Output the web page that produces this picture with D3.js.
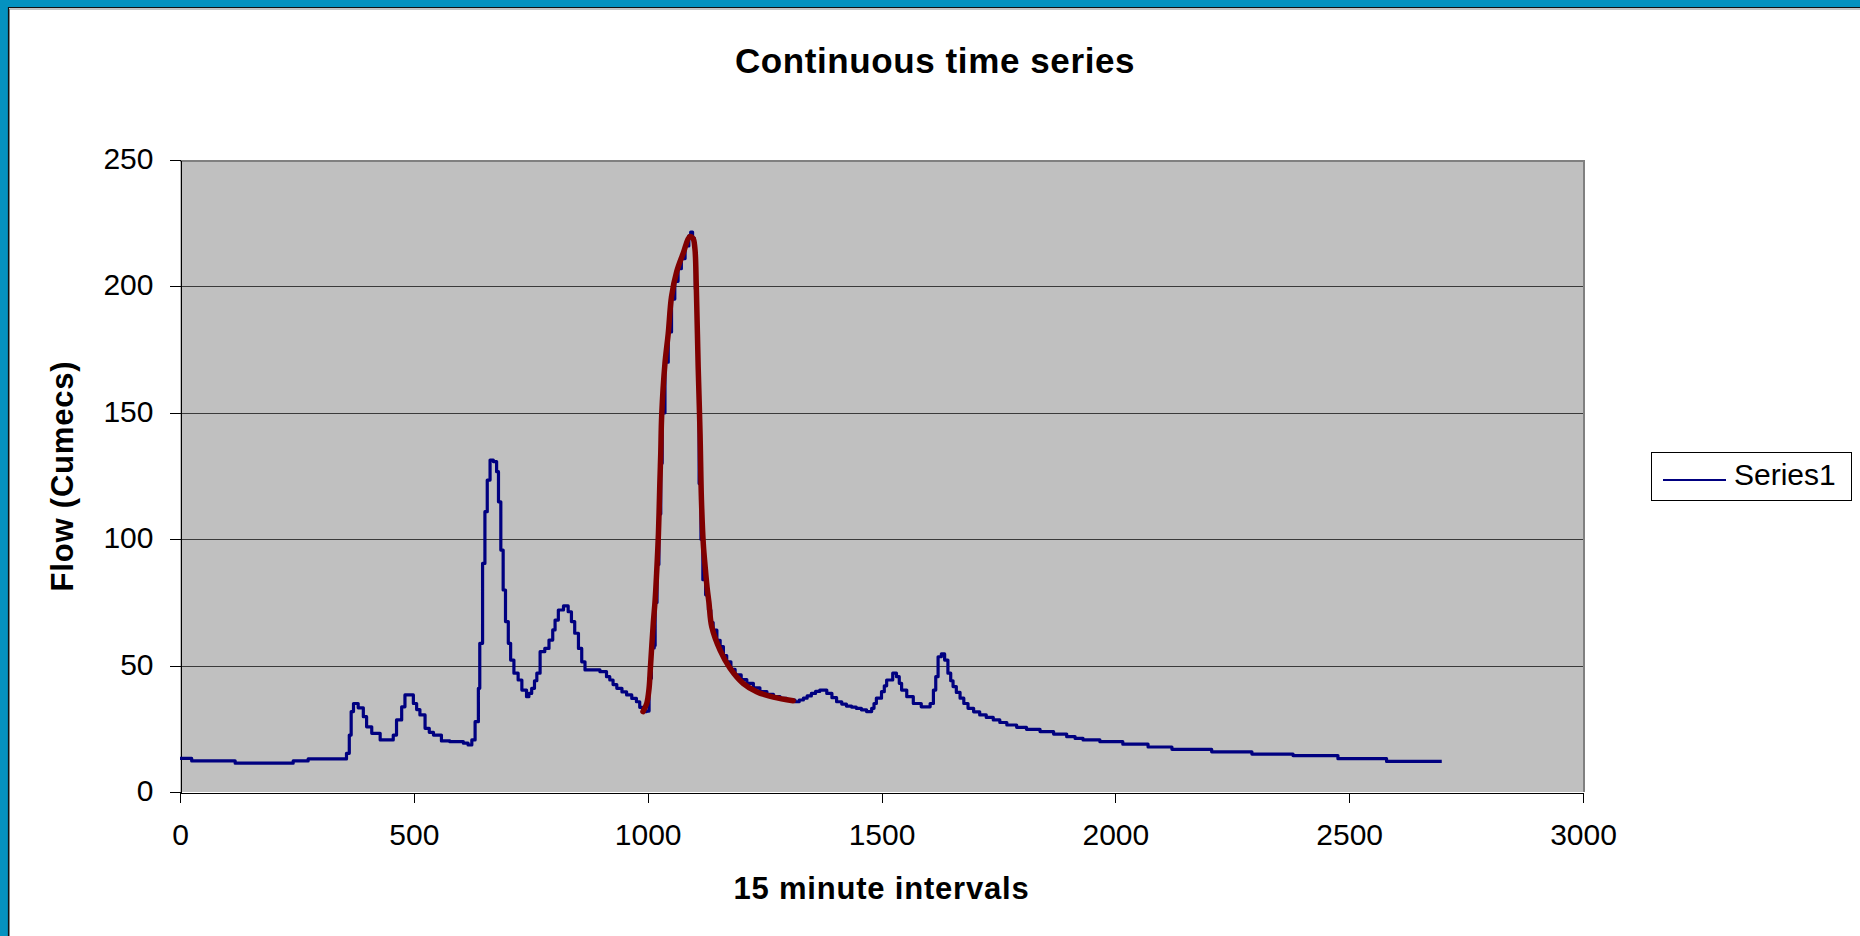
<!DOCTYPE html>
<html>
<head>
<meta charset="utf-8">
<script src="https://cdn.jsdelivr.net/npm/d3@7"></script>
<style>
  html, body { margin: 0; padding: 0; background: #fff; }
  svg { display: block; font-family: "Liberation Sans", Arial, sans-serif; }
  .axis text { font-size: 30px; fill: #000; }
  .axis path, .axis line { stroke: #000; stroke-width: 1px; shape-rendering: crispEdges; }
</style>
</head>
<body>
<svg id="chart" width="1860" height="936"></svg>
<script>
var flowSeries = [
  [0, 13.3], [25, 12.3], [118, 11.4], [242, 12.3], [274, 13.1], [356, 15.3], [362, 22.5],
  [366, 31.8], [371, 35], [381, 33.3], [392, 29.8], [399, 25.8], [410, 23.2], [428, 20.6],
  [445, 20.6], [456, 22.5], [463, 28.5], [474, 33.7], [481, 38.4], [488, 38.4], [499, 35],
  [506, 32.6], [513, 30.5], [524, 25.2], [533, 23.6], [542, 22.5], [559, 20.2], [577, 19.9],
  [606, 19.3], [616, 18.6], [624, 20.6], [631, 27.8], [638, 41], [641, 58.8], [647, 90.4],
  [652, 110.9], [657, 123.4], [663, 131.3], [670, 130.7], [677, 126.7], [681, 114.8],
  [686, 95.7], [691, 79.9], [696, 67.4], [702, 58.8], [707, 52.2], [714, 47], [723, 44.3],
  [731, 40.3], [741, 37.7], [746, 39], [752, 41], [758, 44], [763, 47], [770, 55.5], [780, 56.8],
  [789, 60.1], [797, 64.1], [802, 68], [809, 72], [820, 73.6], [830, 71.3], [837, 67.4],
  [844, 62.8], [852, 56.8], [859, 51.5], [866, 48.3], [884, 48.3], [898, 47.6], [912, 45.6],
  [919, 44.3], [926, 42.5], [934, 41], [945, 39.6], [955, 38.4], [966, 37], [976, 35.7],
  [983, 33.5], [989, 31.8], [998, 32], [1003, 45], [1008, 57], [1014, 58], [1016, 75],
  [1020, 90], [1024, 110], [1028, 130], [1031, 150], [1037, 170], [1044, 182], [1051, 195],
  [1058, 202], [1065, 207], [1072, 211], [1080, 216], [1088, 220], [1092, 221.5], [1096, 219],
  [1100, 217], [1102, 199], [1105, 180], [1107, 163], [1110, 122], [1114, 100], [1118, 84],
  [1124, 78], [1130, 72], [1135, 67], [1140, 64], [1148, 60], [1155, 57.5], [1162, 54],
  [1169, 51.5], [1178, 48.5], [1187, 46.3], [1200, 44.5], [1212, 43], [1226, 41.2],
  [1240, 39.7], [1255, 38.6], [1269, 37.7], [1283, 37], [1297, 36.4], [1315, 35.7],
  [1324, 36.4], [1333, 37.1], [1341, 38], [1350, 39], [1359, 39.8], [1368, 40.3], [1383, 39],
  [1394, 37.3], [1404, 35.7], [1415, 34.8], [1425, 34], [1436, 33.6], [1446, 33.1],
  [1457, 32.5], [1468, 31.8], [1479, 33.1], [1484, 35], [1489, 37.1], [1500, 39.7],
  [1506, 42], [1511, 44.3], [1524, 47], [1532, 45.6], [1538, 43], [1543, 40.3], [1554, 37.7],
  [1568, 35], [1585, 33.7], [1604, 35], [1611, 40.3], [1616, 45.6], [1621, 53.5], [1628, 54.6],
  [1635, 52.2], [1642, 47], [1648, 44], [1653, 41.7], [1660, 39.4], [1668, 37.1], [1676, 35],
  [1685, 33.1], [1697, 31.7], [1710, 30.5], [1724, 29.5], [1739, 28.5], [1753, 27.5],
  [1768, 26.5], [1789, 25.6], [1810, 24.8], [1839, 23.9], [1868, 22.9], [1896, 21.9],
  [1914, 21.2], [1931, 20.6], [1967, 19.9], [2016, 18.9], [2070, 17.8], [2121, 16.9],
  [2206, 15.9], [2292, 15.0], [2380, 14.4], [2476, 13.2], [2580, 12.1], [2698, 12.1]
];

// the red hand-drawn curve over the main flood peak
var peakCurve = [
  [990, 31.8], [998, 35], [1003, 41], [1006, 49.6], [1012, 66.7], [1016, 76], [1019, 86],
  [1023, 102], [1026, 122], [1028, 134], [1030, 149], [1037, 169.6], [1044, 181.4],
  [1051, 195.9], [1062, 205.8], [1076, 213.1], [1090, 219.7], [1097, 219], [1101, 215],
  [1104, 200], [1108, 168.2], [1112, 141.9], [1115, 115.5], [1119, 98], [1123, 89],
  [1127, 81], [1131, 75], [1137, 65.4], [1155, 56], [1176, 49], [1204, 43], [1233, 39.7],
  [1269, 37.5], [1311, 36.1]
];

var xTicks = [0, 500, 1000, 1500, 2000, 2500, 3000];
var yTicks = [0, 50, 100, 150, 200, 250];
var seriesName = "Series1";

var margin = {left: 180, top: 160, right: 1583, bottom: 792};

var svg = d3.select("#chart");

// slide frame: blue strip on top/left, white card
svg.append("rect").attr("width", 1860).attr("height", 936).attr("fill", "#0592c0");
svg.append("rect").attr("x", 9).attr("y", 8).attr("width", 1860).attr("height", 936).attr("fill", "#fff");
svg.append("path").attr("d", "M8.5,936V7.5H1860").attr("fill", "none").attr("stroke", "#111").attr("stroke-width", 1.2);
svg.append("path").attr("d", "M9.5,936V9H1860").attr("fill", "none").attr("stroke", "#888").attr("stroke-width", 1);

var xScale = d3.scaleLinear().domain([0, 3000]).range([margin.left, margin.right]);
var yScale = d3.scaleLinear().domain([0, 250]).range([margin.bottom, margin.top]);

// plot area
svg.append("rect")
    .attr("x", margin.left).attr("y", margin.top)
    .attr("width", margin.right - margin.left).attr("height", margin.bottom - margin.top)
    .attr("fill", "#c0c0c0");

// gridlines
svg.append("g").selectAll("line")
    .data(yTicks.filter(function (d) { return d > 0 && d < 250; }))
    .enter().append("line")
    .attr("x1", margin.left).attr("x2", margin.right)
    .attr("y1", function (d) { return Math.round(yScale(d)) + 0.5; })
    .attr("y2", function (d) { return Math.round(yScale(d)) + 0.5; })
    .attr("stroke", "#3a3a3a").attr("stroke-width", 1);

// top and right border of plot area
svg.append("path")
    .attr("d", "M" + margin.left + "," + (margin.top + 1) + "H" + (margin.right + 1) + "V" + margin.bottom)
    .attr("fill", "none").attr("stroke", "#808080").attr("stroke-width", 2);

svg.append("g")
    .attr("class", "axis")
    .attr("transform", "translate(" + (margin.left + 0.5) + ",0)")
    .call(d3.axisLeft(yScale).tickValues(yTicks).tickSize(11).tickSizeOuter(0).tickPadding(16))
    .selectAll("text").attr("dy", "0.28em");

svg.append("g")
    .attr("class", "axis")
    .attr("transform", "translate(0," + (margin.bottom + 0.5) + ")")
    .call(d3.axisBottom(xScale).tickValues(xTicks).tickFormat(d3.format("d"))
        .tickSize(10).tickSizeOuter(0).tickPadding(21));

var line = d3.line()
    .x(function (d) { return xScale(d[0]); })
    .y(function (d) { return yScale(d[1]); })
    .curve(d3.curveStepAfter);

svg.append("path")
    .datum(flowSeries)
    .attr("fill", "none")
    .attr("stroke", "#000080")
    .attr("stroke-width", 3.2)
    .attr("stroke-linejoin", "round")
    .attr("d", line);

var smooth = d3.line()
    .x(function (d) { return xScale(d[0]); })
    .y(function (d) { return yScale(d[1]); })
    .curve(d3.curveCatmullRom);

svg.append("path")
    .datum(peakCurve)
    .attr("fill", "none")
    .attr("stroke", "#800000")
    .attr("stroke-width", 5.5)
    .attr("stroke-linecap", "round")
    .attr("stroke-linejoin", "round")
    .attr("d", smooth);

// titles
svg.append("text")
    .attr("x", 935).attr("y", 73)
    .attr("text-anchor", "middle")
    .style("font-size", "35px").style("font-weight", "bold").style("letter-spacing", "0.6px")
    .text("Continuous time series");

svg.append("text")
    .attr("x", (margin.left + margin.right) / 2).attr("y", 899)
    .attr("text-anchor", "middle")
    .style("font-size", "31px").style("font-weight", "bold").style("letter-spacing", "0.8px")
    .text("15 minute intervals");

svg.append("text")
    .attr("transform", "translate(73," + (margin.top + margin.bottom) / 2 + ") rotate(-90)")
    .attr("text-anchor", "middle")
    .style("font-size", "31px").style("font-weight", "bold").style("letter-spacing", "0.8px")
    .text("Flow (Cumecs)");

// legend
var legend = svg.append("g");
legend.append("rect")
    .attr("x", 1651.5).attr("y", 452.5).attr("width", 200).attr("height", 48)
    .attr("fill", "#fff").attr("stroke", "#000").attr("stroke-width", 1);
legend.append("line")
    .attr("x1", 1663).attr("x2", 1726).attr("y1", 480).attr("y2", 480)
    .attr("stroke", "#000080").attr("stroke-width", 2);
legend.append("text")
    .attr("x", 1734).attr("y", 485)
    .style("font-size", "30px")
    .text(seriesName);
</script>
</body>
</html>
